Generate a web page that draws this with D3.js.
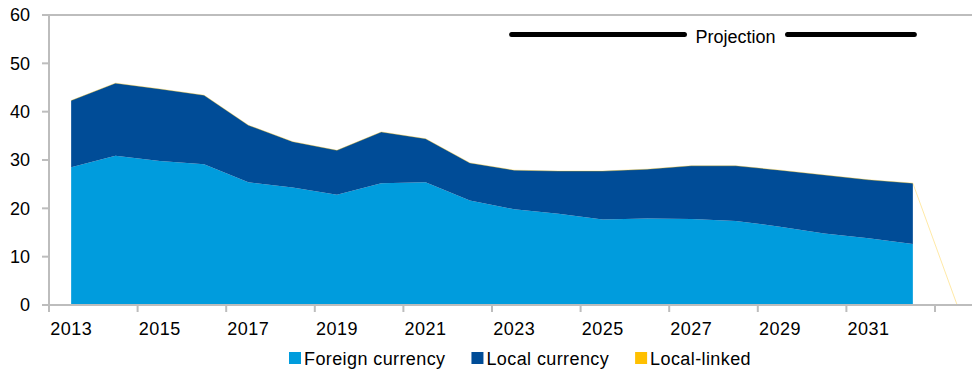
<!DOCTYPE html>
<html>
<head>
<meta charset="utf-8">
<script src="https://cdn.jsdelivr.net/npm/d3@7"></script>
<style>
  html, body { margin: 0; padding: 0; background: #fff; }
  svg { display: block; font-family: "Liberation Sans", Arial, sans-serif; }
</style>
</head>
<body>
<svg id="chart" width="972" height="371"></svg>
<script>
// ---- data ----
const years = [2013,2014,2015,2016,2017,2018,2019,2020,2021,2022,2023,2024,2025,2026,2027,2028,2029,2030,2031,2032,2033];
const foreignCurrency = [28.5,30.9,29.8,29.1,25.4,24.3,22.8,25.2,25.4,21.6,19.8,18.9,17.7,17.9,17.8,17.4,16.2,14.8,13.8,12.6,0];
const localCurrency   = [13.8,15.0,14.9,14.3,11.8,9.5,9.2,10.6,9.0,7.8,8.1,8.8,10.0,10.2,11.0,11.4,11.7,12.1,12.1,12.6,0];
const localLinked     = [0,0,0,0,0,0,0,0,0,0,0,0,0,0,0,0,0,0,0,0,0];
const lastDataYear = 2032;
const yTicks = [0,10,20,30,40,50,60];
const xLabelYears = [2013,2015,2017,2019,2021,2023,2025,2027,2029,2031];
const xTickYears = [2013,2015,2017,2019,2021,2023,2025,2027,2029,2031,2033];
const seriesNames = ["Foreign currency","Local currency","Local-linked"];
const seriesColors = ["#009CDD","#004C97","#FFC000"];
const projectionLabel = "Projection";
const projectionRange = [2023, 2032];

// ---- layout ----
const svg = d3.select("#chart");
const plotLeft = 49, bandW = 44.3, plotTop = 15, plotBottom = 305;
const axisColor = "#BDBDBD";
const fontSize = 18;

const x = d3.scaleBand().domain(years).range([plotLeft, plotLeft + bandW * years.length]).padding(0);
const cx = yr => x(yr) + x.bandwidth() / 2;
const y = d3.scaleLinear().domain([0, 60]).range([plotBottom, plotTop]);

const table = years.map((yr, i) => ({
  year: yr,
  foreign: foreignCurrency[i],
  local: localCurrency[i],
  linked: localLinked[i]
}));
const stacked = d3.stack().keys(["foreign","local","linked"])(table);

// areas
const area = d3.area()
  .defined(d => d.data.year <= lastDataYear)
  .x(d => cx(d.data.year))
  .y0(d => y(d[0]))
  .y1(d => y(d[1]));

svg.append("g").selectAll("path")
  .data(stacked.slice(0, 2))
  .join("path")
  .attr("d", d => area(d))
  .attr("fill", (d, i) => seriesColors[i]);

// local-linked (zero-height, drawn as thin outline through all categories)
const linkedLine = d3.line()
  .x(d => cx(d.data.year))
  .y(d => y(d[1]));
svg.append("path")
  .attr("d", linkedLine(stacked[2]))
  .attr("fill", "none")
  .attr("stroke", seriesColors[2])
  .attr("stroke-opacity", 0.35)
  .attr("stroke-width", 1);

// axes
const g = svg.append("g").attr("stroke", axisColor).attr("stroke-width", 2);
g.append("line").attr("x1", plotLeft).attr("x2", plotLeft).attr("y1", plotTop).attr("y2", plotBottom);
g.append("line").attr("x1", plotLeft - 7).attr("x2", 972).attr("y1", plotBottom).attr("y2", plotBottom);
g.append("line").attr("x1", plotLeft - 7).attr("x2", 972).attr("y1", plotTop).attr("y2", plotTop);
g.selectAll(".yt").data(yTicks).join("line")
  .attr("x1", plotLeft - 7).attr("x2", plotLeft)
  .attr("y1", d => y(d)).attr("y2", d => y(d));
g.selectAll(".xt").data(xTickYears).join("line")
  .attr("x1", d => x(d)).attr("x2", d => x(d))
  .attr("y1", plotBottom).attr("y2", plotBottom + 7);

// y labels
svg.append("g").selectAll("text").data(yTicks).join("text")
  .attr("x", 30).attr("y", d => y(d))
  .attr("dy", "0.36em")
  .attr("text-anchor", "end")
  .attr("font-size", fontSize)
  .attr("fill", "#000")
  .text(d => d);

// x labels
svg.append("g").selectAll("text").data(xLabelYears).join("text")
  .attr("x", d => cx(d)).attr("y", 334.5)
  .attr("text-anchor", "middle")
  .attr("font-size", fontSize)
  .attr("letter-spacing", 0.5)
  .attr("fill", "#000")
  .text(d => d);

// projection marker
const projCx = 735.5;
const projText = svg.append("text")
  .attr("x", projCx).attr("y", 42.5)
  .attr("text-anchor", "middle")
  .attr("font-size", fontSize)
  .attr("fill", "#000")
  .text(projectionLabel);
const pw = projText.node().getComputedTextLength();
const projY = 34.5;
const px0 = cx(projectionRange[0]) - 2.5, px1 = cx(projectionRange[1]) + 1.5;
svg.append("g").attr("stroke", "#000").attr("stroke-width", 5).attr("stroke-linecap", "round")
  .selectAll("line")
  .data([[px0, projCx - pw / 2 - 11], [projCx + pw / 2 + 12, px1]])
  .join("line")
  .attr("x1", d => d[0]).attr("x2", d => d[1])
  .attr("y1", projY).attr("y2", projY);

// legend
const leg = svg.append("g");
let lx = 289;
seriesNames.forEach((name, i) => {
  leg.append("rect").attr("x", lx).attr("y", 352).attr("width", 12).attr("height", 12)
    .attr("fill", seriesColors[i]);
  const t = leg.append("text").attr("x", lx + 15).attr("y", 364.5)
    .attr("font-size", fontSize).attr("letter-spacing", 0.4).attr("fill", "#000").text(name);
  lx += 15 + t.node().getComputedTextLength() + 26;
});
</script>
</body>
</html>
